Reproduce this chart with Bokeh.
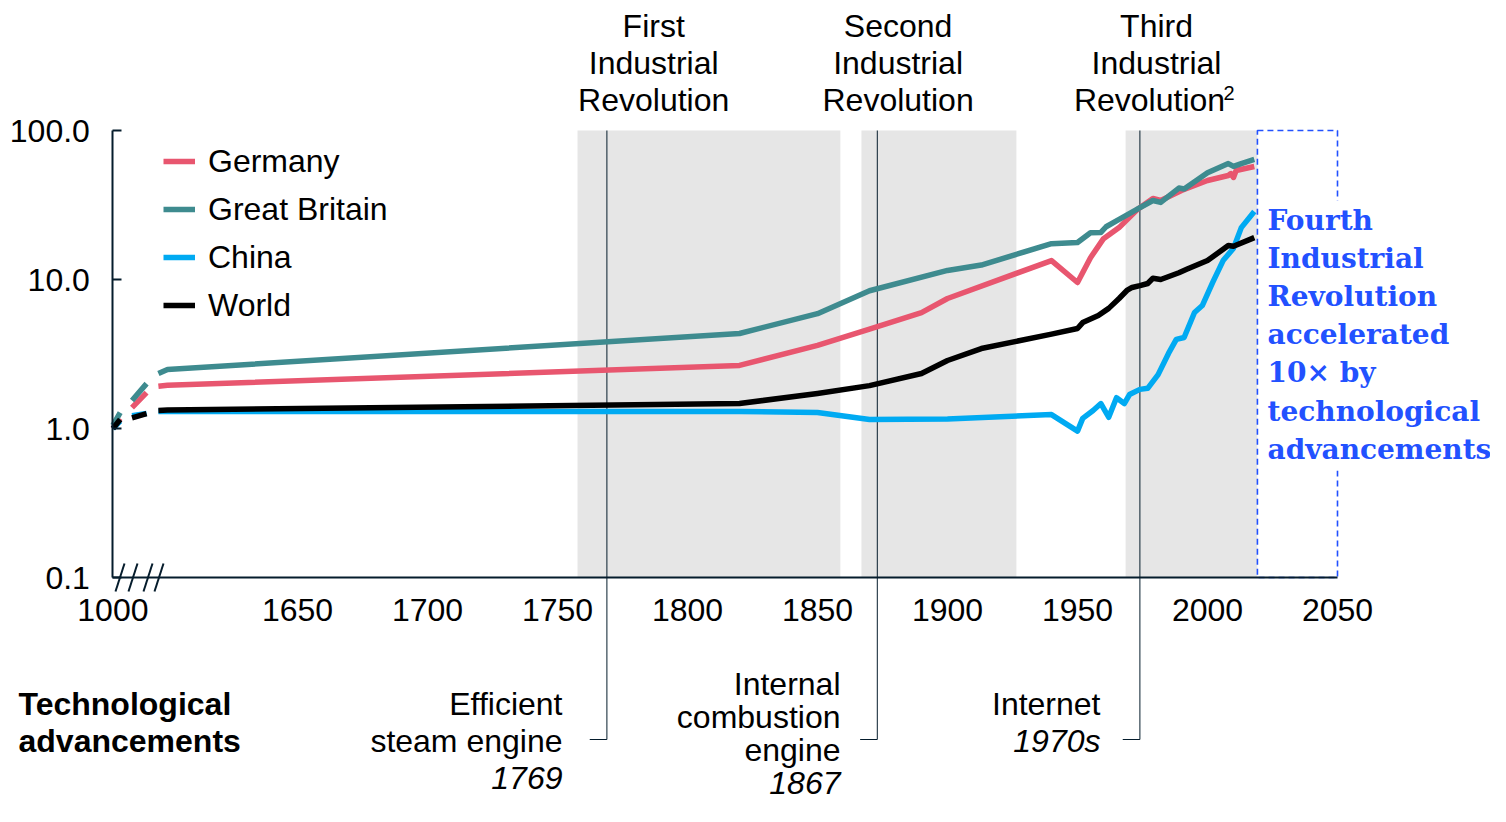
import numpy as np
from bokeh.plotting import figure
from bokeh.models import Range1d, FixedTicker, PrintfTickFormatter, Legend, LegendItem
from bokeh.core.properties import value
from bokeh.embed import file_html
from bokeh.resources import INLINE

nan = np.nan

# ---------------- data (index, year 1000 = 1.0, log scale) ----------------
germany_years = [1000, 1080, nan, 1210, 1370, nan, 1500, 1600, 1820, 1850, 1870, 1890, 1900, 1940,
                 1950, 1955, 1960, 1966, 1973, 1979, 1982, 1990, 2000, 2008, 2009, 2010, 2011, 2018]
germany_values = [1.0, 1.17, nan, 1.38, 1.74, nan, 1.92, 1.95, 2.65, 3.61, 4.65, 6.0, 7.46, 13.4,
                  9.55, 14.0, 18.8, 22.3, 29.5, 35.0, 33.9, 39.6, 46.2, 49.9, 51.4, 48.4, 53.9, 57.3]

gb_years = [1000, 1080, nan, 1210, 1370, nan, 1500, 1600, 1820, 1850, 1870, 1900, 1913, 1940, 1950,
            1955, 1959, 1961, 1966, 1973, 1979, 1982, 1989, 1991, 2000, 2008, 2010, 2013, 2018]
gb_values = [1.05, 1.28, nan, 1.54, 2.0, nan, 2.34, 2.49, 4.34, 5.9, 8.4, 11.5, 12.5, 17.4, 17.7,
             20.6, 20.7, 22.6, 25.3, 29.7, 33.9, 32.9, 41.1, 40.5, 52.0, 60.0, 57.5, 60.0, 63.9]

china_years = [1000, 1080, nan, 1210, 1370, nan, 1500, 1600, 1820, 1850, 1870, 1900, 1940, 1950, 1952,
               1956, 1959, 1962, 1965, 1968, 1970, 1974, 1977, 1981, 1985, 1988, 1991, 1995, 1998,
               2002, 2006, 2010, 2013, 2018]
china_values = [1.0, 1.12, nan, 1.22, 1.26, nan, 1.3, 1.3, 1.3, 1.28, 1.15, 1.16, 1.24, 0.96, 1.17,
                1.32, 1.47, 1.19, 1.61, 1.47, 1.69, 1.83, 1.86, 2.3, 3.19, 3.96, 4.08, 6.0, 6.69,
                9.55, 13.4, 16.2, 22.3, 28.6]

world_years = [1000, 1080, nan, 1210, 1370, nan, 1500, 1600, 1820, 1850, 1870, 1890, 1900, 1913, 1940,
               1950, 1952, 1958, 1962, 1966, 1969, 1971, 1974, 1977, 1979, 1982, 1989, 1992, 2000,
               2008, 2010, 2018]
world_values = [1.0, 1.15, nan, 1.18, 1.26, nan, 1.32, 1.33, 1.47, 1.72, 1.94, 2.34, 2.86, 3.44, 4.3,
                4.69, 5.14, 5.73, 6.4, 7.46, 8.44, 8.84, 9.1, 9.4, 10.2, 10.0, 11.1, 11.7, 13.4,
                16.9, 16.7, 19.1]

series_names = ["Germany", "Great Britain", "China", "World"]
series_colors = ["#E8566F", "#3E8B8F", "#00AAF2", "#000000"]

period_labels = [["First", "Industrial", "Revolution"],
                 ["Second", "Industrial", "Revolution"],
                 ["Third", "Industrial", "Revolution"]]
period_footnote = ["", "", "2"]
period_start = [1757.7, 1866.9, 1968.5]
period_end = [1858.8, 1926.5, 2019.2]
period_label_year = [1787, 1881, 1980.4]
fourth_start, fourth_end = 2019.2, 2050
fourth_label = ["Fourth", "Industrial", "Revolution", "accelerated", "10\u00d7 by",
                "technological", "advancements"]

tech_line_year = [1769, 1873, 1974]
tech_labels = [["Efficient", "steam engine"], ["Internal", "combustion", "engine"], ["Internet"]]
tech_dates = ["1769", "1867", "1970s"]

x_ticks = [1000, 1650, 1700, 1750, 1800, 1850, 1900, 1950, 2000, 2050]
y_ticks = [0.1, 1.0, 10.0, 100.0]

# ---------------- broken x axis: 1000-1600 compressed ----------------
def to_display(year):
    year = np.asarray(year, dtype=float)
    return np.where(year < 1600, 1579 + (year - 1000) * 21 / 600, year)

# layout helpers (pixel position on canvas -> data coordinates)
def lx(px):
    return 1650 + (px - 297) / 2.6

def ly(py):
    return 10 ** (2 - (py - 130) / 149)

def lyb(py, size):
    # baseline correction for text glyphs
    return ly(py - 0.35 * size)

NAVY = "#051C2C"
BLUE = "#2251FF"
GREY = "#E6E6E6"
FONT = "Liberation Sans"
FS = 32

p = figure(width=1490, height=806, output_backend="svg", toolbar_location=None,
           x_range=Range1d(lx(0), lx(1490)), y_range=Range1d(ly(806), ly(0)),
           y_axis_type="log", min_border=0, outline_line_color=None)
p.xgrid.visible = False
p.ygrid.visible = False
p.background_fill_color = "white"

# period bands
p.quad(left=period_start, right=period_end, bottom=0.1, top=100, fill_color=GREY, line_color=None)

# technology marker lines with hooks
hook_y = ly(739)
p.multi_line(xs=[[x - 6.6, x, x] for x in tech_line_year],
             ys=[[hook_y, hook_y, 100]] * len(tech_line_year),
             line_color=NAVY, line_width=1)

# fourth revolution dashed box
p.quad(left=fourth_start, right=fourth_end, bottom=0.1, top=100, fill_color=None,
       line_color=BLUE, line_width=1.6, line_dash="6 4")
p.quad(left=lx(1331), right=lx(1343), bottom=ly(470), top=ly(200), fill_color="white", line_color=None)

# data lines
renderers = []
for yrs, vals, col in zip([germany_years, gb_years, china_years, world_years],
                          [germany_values, gb_values, china_values, world_values], series_colors):
    r = p.line(to_display(yrs), np.array(vals, dtype=float), line_color=col, line_width=5.5,
               line_cap="butt", line_join="round")
    renderers.append(r)

# axis break marks
brk = [119.5, 132.5, 147.5, 158.5]
p.segment(x0=[lx(b - 4.5) for b in brk], y0=ly(591), x1=[lx(b + 4.5) for b in brk], y1=ly(563),
          line_color=NAVY, line_width=2)

# axes
xd = [float(v) for v in to_display(x_ticks)]
xa = p.xaxis[0]
xa.fixed_location = 0.1
xa.bounds = (xd[0], xd[-1])
xa.ticker = FixedTicker(ticks=xd)
xa.major_label_overrides = {d: str(t) for d, t in zip(xd, x_ticks)}
xa.major_tick_line_color = None
xa.minor_tick_line_color = None
xa.axis_line_color = NAVY
xa.axis_line_width = 2
xa.major_label_standoff = 15
xa.major_label_text_font = FONT
xa.major_label_text_font_size = f"{FS}px"
xa.major_label_text_color = "black"

ya = p.yaxis[0]
ya.fixed_location = xd[0]
ya.bounds = (0.1, 100)
ya.ticker = FixedTicker(ticks=y_ticks)
ya.formatter = PrintfTickFormatter(format="%.1f")
ya.major_tick_in = 9
ya.major_tick_out = 0
ya.major_tick_line_color = NAVY
ya.major_tick_line_width = 2
ya.minor_tick_line_color = None
ya.axis_line_color = NAVY
ya.axis_line_width = 2
ya.major_label_standoff = 23
ya.major_label_text_font = FONT
ya.major_label_text_font_size = f"{FS}px"
ya.major_label_text_color = "black"

# legend
legend = Legend(items=[LegendItem(label=n, renderers=[r]) for n, r in zip(series_names, renderers)],
                location=(163, 477), orientation="vertical", glyph_width=32, glyph_height=48,
                label_height=48, spacing=0, padding=0, margin=0, label_standoff=13,
                border_line_color=None, background_fill_alpha=0,
                label_text_font=FONT, label_text_font_size=f"{FS}px", label_text_color="black")
p.add_layout(legend)

def add_text(xs, ys_px, texts, align, style="normal", font=FONT, size=FS, color="black"):
    p.text(x=xs, y=[lyb(b, size) for b in ys_px], text=texts, text_align=align,
           text_baseline="alphabetic", text_font=value(font), text_font_size=value(f"{size}px"),
           text_font_style=style, text_color=color)

# period labels
top_base = [37, 74, 111]
for lines, xc, sup in zip(period_labels, period_label_year, period_footnote):
    shift = 2.7 if sup else 0.0
    add_text([xc, xc, xc - shift], top_base, lines, "center")
    if sup:
        add_text([xc - shift + 74 / 2.6], [99], [sup], "left", size=20)

# fourth revolution text
blue_base = [230, 268, 306, 344, 382, 421, 459]
add_text([lx(1267)] * len(fourth_label), blue_base, fourth_label, "left",
         style="bold", font="DejaVu Serif", size=28, color=BLUE)

# technological advancements
add_text([lx(18)] * 2, [715, 752], ["Technological", "advancements"], "left", style="bold")
tech_right = [lx(562), lx(840), lx(1100)]
tech_first_base = [715, 695, 715]
tech_step = [37, 33, 37]
for lines, date, xr, b0, st in zip(tech_labels, tech_dates, tech_right, tech_first_base, tech_step):
    bases = [b0 + st * i for i in range(len(lines) + 1)]
    add_text([xr] * len(lines), bases[:-1], lines, "right")
    add_text([xr], [bases[-1]], [date], "right", style="italic")

open("out.html", "w").write(file_html(p, INLINE))
